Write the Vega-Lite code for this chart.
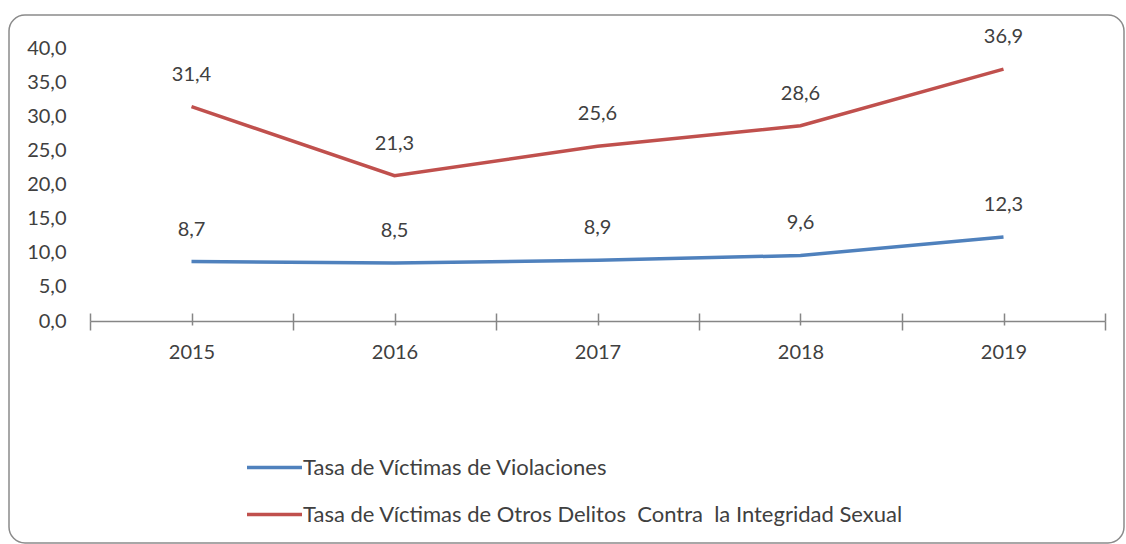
{
  "$schema": "https://vega.github.io/schema/vega-lite/v6.json",
  "autosize": {"type": "none"},
  "padding": {"left": 9, "top": 15, "right": 2, "bottom": 1},
  "width": 1115,
  "height": 528,
  "view": {"stroke": "#8a8a8a", "strokeWidth": 1.5, "cornerRadius": 16, "fill": "white"},
  "config": {
    "font": "Lato",
    "locale": {"number": {"decimal": ",", "thousands": ".", "grouping": [3], "currency": ["", " €"]}}
  },
  "data": {
    "values": [
      {"year": 2015, "series": "Tasa de Víctimas de Violaciones", "value": 8.7},
      {"year": 2016, "series": "Tasa de Víctimas de Violaciones", "value": 8.5},
      {"year": 2017, "series": "Tasa de Víctimas de Violaciones", "value": 8.9},
      {"year": 2018, "series": "Tasa de Víctimas de Violaciones", "value": 9.6},
      {"year": 2019, "series": "Tasa de Víctimas de Violaciones", "value": 12.3},
      {"year": 2015, "series": "Tasa de Víctimas de Otros Delitos \u00a0Contra \u00a0la Integridad Sexual", "value": 31.4},
      {"year": 2016, "series": "Tasa de Víctimas de Otros Delitos \u00a0Contra \u00a0la Integridad Sexual", "value": 21.3},
      {"year": 2017, "series": "Tasa de Víctimas de Otros Delitos \u00a0Contra \u00a0la Integridad Sexual", "value": 25.6},
      {"year": 2018, "series": "Tasa de Víctimas de Otros Delitos \u00a0Contra \u00a0la Integridad Sexual", "value": 28.6},
      {"year": 2019, "series": "Tasa de Víctimas de Otros Delitos \u00a0Contra \u00a0la Integridad Sexual", "value": 36.9}
    ]
  },
  "layer": [
    {
      "mark": {"type": "line", "strokeWidth": 3.5},
      "encoding": {
        "x": {
          "field": "year", "type": "quantitative",
          "scale": {"domain": [2014.5, 2019.5], "range": [81, 1096], "nice": false, "zero": false},
          "axis": {
            "orient": "bottom", "offset": -222, "title": null, "grid": false,
            "values": [2014.5, 2015, 2015.5, 2016, 2016.5, 2017, 2017.5, 2018, 2018.5, 2019, 2019.5],
            "labels": false, "tickSize": -8, "tickColor": "#868686", "tickWidth": 1.5,
            "domain": true, "domainColor": "#868686", "domainWidth": 1.5
          }
        },
        "y": {
          "field": "value", "type": "quantitative",
          "scale": {"domain": [0, 40], "range": [306, 33], "nice": false},
          "axis": {
            "orient": "left", "offset": -81, "title": null, "grid": false,
            "values": [0, 5, 10, 15, 20, 25, 30, 35, 40], "format": ".1f",
            "domain": false, "ticks": false, "labelPadding": 24,
            "labelFontSize": 20, "labelColor": "#404040", "labelFont": "Lato"
          }
        },
        "color": {
          "field": "series", "type": "nominal",
          "scale": {
            "domain": ["Tasa de Víctimas de Violaciones", "Tasa de Víctimas de Otros Delitos \u00a0Contra \u00a0la Integridad Sexual"],
            "range": ["#4F81BD", "#C0504D"]
          },
          "legend": {
            "orient": "none", "legendX": 236, "legendY": 423, "direction": "vertical",
            "title": null, "symbolType": "stroke", "symbolSize": 3025, "symbolStrokeWidth": 3.5,
            "labelFontSize": 22, "labelColor": "#404040", "labelFont": "Lato",
            "labelOffset": -1, "rowPadding": 6, "padding": 0, "labelLimit": 900
          }
        }
      }
    },
    {
      "transform": [{"filter": "datum.series === 'Tasa de Víctimas de Violaciones'"}],
      "mark": {"type": "text", "dy": -32, "fontSize": 20, "color": "#404040", "baseline": "middle"},
      "encoding": {
        "x": {
          "field": "year", "type": "quantitative",
          "scale": {"domain": [2014.5, 2019.5], "range": [81, 1096], "nice": false, "zero": false},
          "axis": {
            "orient": "bottom", "offset": -222, "title": null, "grid": false,
            "values": [2014.5, 2015.5, 2016.5, 2017.5, 2018.5, 2019.5],
            "labels": false, "tickSize": 9, "tickColor": "#868686", "tickWidth": 1.5,
            "domain": false
          }
        },
        "y": {"field": "value", "type": "quantitative", "scale": {"domain": [0, 40], "range": [306, 33], "nice": false}},
        "text": {"field": "value", "type": "quantitative", "format": ".1f"}
      }
    },
    {
      "transform": [{"filter": "datum.series !== 'Tasa de Víctimas de Violaciones'"}],
      "mark": {"type": "text", "dy": -32, "fontSize": 20, "color": "#404040", "baseline": "middle"},
      "encoding": {
        "x": {
          "field": "year", "type": "quantitative",
          "scale": {"domain": [2014.5, 2019.5], "range": [81, 1096], "nice": false, "zero": false},
          "axis": {
            "orient": "bottom", "offset": -222, "title": null, "grid": false,
            "values": [2015, 2016, 2017, 2018, 2019], "format": "d",
            "labels": true, "tickSize": 4, "tickColor": "#868686", "tickWidth": 1.5,
            "domain": false, "labelPadding": 17, "labelFontSize": 20,
            "labelColor": "#404040", "labelFont": "Lato"
          }
        },
        "y": {"field": "value", "type": "quantitative", "scale": {"domain": [0, 40], "range": [306, 33], "nice": false}},
        "text": {"field": "value", "type": "quantitative", "format": ".1f"}
      }
    }
  ],
  "resolve": {"axis": {"x": "independent"}}
}
